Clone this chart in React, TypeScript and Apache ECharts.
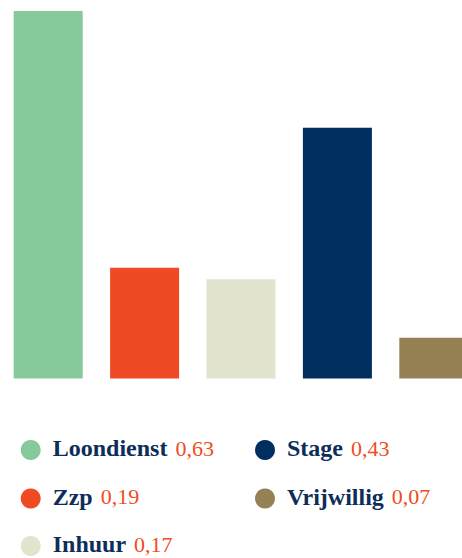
import React, { useEffect, useRef } from "react";
import * as echarts from "echarts";

const categories = ["Loondienst", "Zzp", "Inhuur", "Stage", "Vrijwillig"];
const values = [0.63, 0.19, 0.17, 0.43, 0.07];
const colors = ["#86C99B", "#F04A24", "#E2E4CE", "#002E5F", "#968154"];
const legendCols = [0, 0, 0, 1, 1];
const legendRows = [0, 1, 2, 0, 1];

const NAVY_TEXT = "#0D2D5A";
const ORANGE_TEXT = "#F04B23";

function fmt(v: number) {
  return v.toFixed(2).replace(".", ",");
}

export default function App() {
  const ref = useRef<HTMLDivElement>(null);
  useEffect(() => {
    if (!ref.current) return;
    const chart = echarts.init(ref.current, undefined, { renderer: "svg" });
    const colLeft = [20.7, 255];
    const rowCenter = [450, 498.5, 546];
    const LH = 28;
    const series = categories.map((name, i) => ({
      type: "bar",
      name,
      stack: "all",
      barWidth: 69,
      itemStyle: { color: colors[i] },
      data: categories.map((_, j) => (j === i ? values[i] : "-")),
    }));
    const legends = categories.map((name, i) => ({
      show: true,
      data: [{ name, icon: "circle" }],
      left: colLeft[legendCols[i]],
      top: rowCenter[legendRows[i]] - LH / 2,
      padding: 0,
      itemWidth: 20,
      itemHeight: 20,
      selectedMode: false,
      formatter: (n: string) => `{n|${n}}{v|${fmt(values[categories.indexOf(n)])}}`,
      textStyle: {
        padding: [0, 0, 0, 7],
        rich: {
          n: {
            fontFamily: "Liberation Serif",
            fontWeight: "bold",
            fontSize: 24,
            lineHeight: LH,
            verticalAlign: "top",
            color: NAVY_TEXT,
          },
          v: {
            fontFamily: "Liberation Serif",
            fontSize: 22,
            lineHeight: LH,
            verticalAlign: "top",
            padding: [1, 0, 0, 8],
            color: ORANGE_TEXT,
          },
        },
      },
    }));
    chart.setOption({
      animation: false,
      grid: { left: 0, right: 0, top: 11, bottom: 179.5 },
      xAxis: {
        type: "category",
        data: categories,
        show: false,
      },
      yAxis: { type: "value", min: 0, max: 0.63, show: false },
      legend: legends,
      series,
    });
    return () => chart.dispose();
  }, []);
  return (
    <div
      style={{
        position: "absolute",
        left: 0,
        top: 0,
        width: 462,
        height: 558,
        overflow: "hidden",
        background: "#fff",
      }}
    >
      <div ref={ref} style={{ width: 482, height: 558 }} />
    </div>
  );
}
